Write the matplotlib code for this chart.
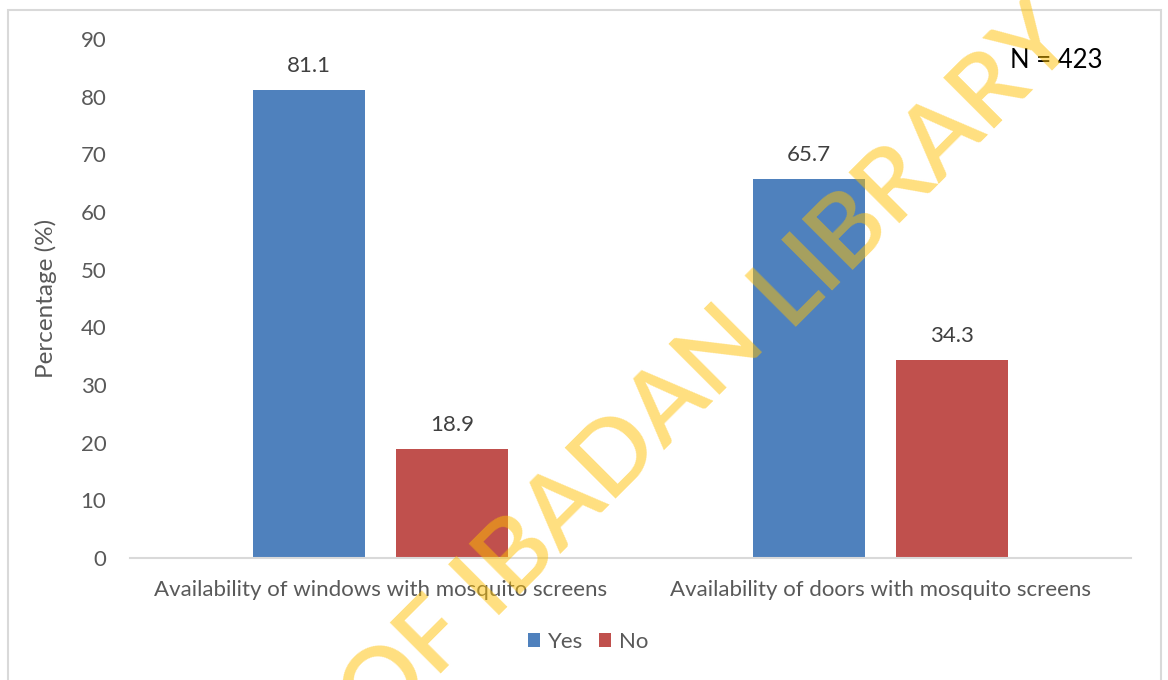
import matplotlib
matplotlib.use("Agg")
import matplotlib.pyplot as plt
import numpy as np
from matplotlib.patches import Rectangle, Patch

categories = ["Availability of windows with mosquito screens",
              "Availability of doors with mosquito screens"]
series_names = ["Yes", "No"]
yes_values = [81.1, 65.7]
no_values = [18.9, 34.3]
y_ticks = [0, 10, 20, 30, 40, 50, 60, 70, 80, 90]
sample_note = "N = 423"
watermark_head = "UNIVERSITY OF IBADAN"
watermark_tail = "LIBRARY"

BLUE = "#4F81BD"
RED = "#C0504D"
GRAY_TEXT = "#595959"
LINE = "#D9D9D9"
FONT = "Lato"
FS = 16

W, H = 1168, 680
fig = plt.figure(figsize=(W / 100, H / 100), dpi=100)
fig.patch.set_facecolor("white")

def fx(px):
    return px / W

def fy(py):
    return (H - py) / H

# chart-area frame
fig.patches.append(Rectangle((fx(8), fy(690)), fx(1161) - fx(8), fy(10) - fy(690),
                             transform=fig.transFigure, fill=False,
                             edgecolor=LINE, linewidth=1.5, zorder=0))

ax = fig.add_axes([fx(130), fy(558), fx(1131) - fx(130), fy(39) - fy(558)])
x = np.arange(len(categories))
width = 0.224
offset = 0.143
bars_yes = ax.bar(x - offset, yes_values, width, color=BLUE, label=series_names[0], zorder=2)
bars_no = ax.bar(x + offset, no_values, width, color=RED, label=series_names[1], zorder=2)

for bars, vals in ((bars_yes, yes_values), (bars_no, no_values)):
    for b, v in zip(bars, vals):
        ax.annotate(f"{v:.1f}", (b.get_x() + b.get_width() / 2, v),
                    xytext=(0, 10), textcoords="offset points",
                    ha="center", va="bottom", fontsize=FS,
                    color="#404040", family=FONT)

ax.set_xlim(-0.5, len(categories) - 0.5)
ax.set_ylim(0, 90)
ax.set_yticks(y_ticks)
ax.set_xticks(x)
ax.set_xticklabels(categories)
for s in ("top", "right", "left"):
    ax.spines[s].set_visible(False)
ax.spines["bottom"].set_color(LINE)
ax.spines["bottom"].set_linewidth(1.5)
ax.tick_params(axis="both", length=0, labelcolor=GRAY_TEXT, labelsize=FS)
ax.tick_params(axis="y", pad=17)
ax.tick_params(axis="x", pad=16)
for lab in ax.get_xticklabels() + ax.get_yticklabels():
    lab.set_family(FONT)

ax.set_ylabel("Percentage (%)", fontsize=17.5, color=GRAY_TEXT, family=FONT)
ax.yaxis.set_label_coords((57 - 130) / 1001, 0.5)

handles = [Patch(facecolor=BLUE), Patch(facecolor=RED)]
fig.legend(handles, series_names, loc="center", bbox_to_anchor=(fx(588), fy(642)),
           ncol=2, frameon=False, handlelength=0.55, handleheight=0.55,
           handletextpad=0.35, columnspacing=0.7,
           prop={"family": FONT, "size": FS}, labelcolor=GRAY_TEXT)

fig.text(fx(1010), fy(61), sample_note, fontsize=18.5, color="black",
         family=FONT, ha="left", va="center")

# library watermark stamped across the page, split at the gap before "LIBRARY"
angle = 45
ux, uy = np.cos(np.radians(angle)), -np.sin(np.radians(angle))
lib_x, lib_y = 787, 327
gap = 26
wm_style = dict(fontsize=73, color="#FFC000", alpha=0.5, family=FONT,
                fontweight="semibold", va="baseline", rotation=angle,
                rotation_mode="anchor", zorder=10)
fig.text(fx(lib_x), fy(lib_y), watermark_tail, ha="left", **wm_style)
fig.text(fx(lib_x - gap * ux), fy(lib_y - gap * uy), watermark_head, ha="right", **wm_style)

fig.savefig("out.png", dpi=100, facecolor="white")
